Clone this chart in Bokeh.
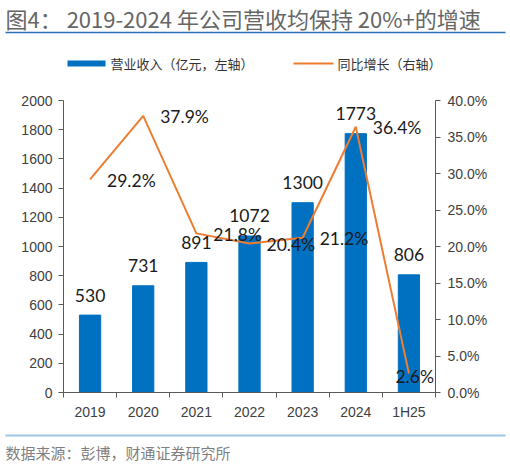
from bokeh.plotting import figure
from bokeh.layouts import column
from bokeh.models import (Range1d, LinearAxis, FixedTicker, PrintfTickFormatter, Label,
                          LabelSet, ColumnDataSource, Span)
from bokeh.core.properties import value
from bokeh.embed import file_html
from bokeh.resources import INLINE

# ---- data ----
categories = ["2019", "2020", "2021", "2022", "2023", "2024", "1H25"]
revenue = [530, 731, 891, 1072, 1300, 1773, 806]          # 营业收入（亿元）
growth = [29.2, 37.9, 21.8, 20.4, 21.2, 36.4, 2.6]         # 同比增长（%）
left_ticks = [0, 200, 400, 600, 800, 1000, 1200, 1400, 1600, 1800, 2000]
right_ticks = [0, 5, 10, 15, 20, 25, 30, 35, 40]

title_text = "图4： 2019-2024 年公司营收均保持 20%+的增速"
source_text = "数据来源：彭博，财通证券研究所"
bar_name = "营业收入（亿元，左轴）"
line_name = "同比增长（右轴）"

BLUE = "#0070C0"
ORANGE = "#ED7D31"
AXIS = "#595959"
TICK_TXT = "#404040"
CJK = "Noto Sans CJK SC"

W = 510
HEAD_H, MAIN_H, FOOT_H = 76, 351, 39
FL, FR, FT, FB = 63, 435, 24, 316     # frame edges inside the main canvas


def blank(height, y0):
    f = figure(width=W, height=height, output_backend="svg", toolbar_location=None,
               x_range=Range1d(0, W), y_range=Range1d(y0 + height, y0),
               x_axis_type=None, y_axis_type=None, min_border=0)
    f.outline_line_color = None
    f.background_fill_color = "white"
    f.border_fill_color = "white"
    return f


# ---- header: title, rule, legend ----
head = blank(HEAD_H, 0)
head.add_layout(Label(x=5, y=17, text=title_text, text_baseline="middle",
                      text_font=CJK, text_font_size="22px", text_color="#666666"))
head.segment(x0=[5], y0=[32], x1=[505], y1=[32], line_color="#2E6FBA", line_width=1.5)
head.quad(left=[67], right=[105], top=[60], bottom=[66], fill_color=BLUE, line_color=None)
head.segment(x0=[293], y0=[63], x1=[333], y1=[63], line_color=ORANGE, line_width=2)
head.add_layout(Label(x=110, y=63, text=bar_name, text_baseline="middle", text_font=CJK,
                      text_font_size="13px", text_color="#333333"))
head.add_layout(Label(x=337, y=63, text=line_name, text_baseline="middle", text_font=CJK,
                      text_font_size="13px", text_color="#333333"))

# ---- main chart ----
xs = list(range(len(categories)))
src = ColumnDataSource(dict(x=xs, rev=revenue, g=growth,
                            rev_txt=[str(v) for v in revenue]))
g_txt = [f"{v:.1f}%" for v in growth]
src_pct = ColumnDataSource(dict(x=xs[:-1], g=growth[:-1], g_txt=g_txt[:-1]))

p = figure(width=W, height=MAIN_H, output_backend="svg", toolbar_location=None,
           x_range=Range1d(-0.5, len(categories) - 0.5),
           y_range=Range1d(left_ticks[0], left_ticks[-1]),
           min_border_left=FL, min_border_right=W - FR,
           min_border_top=FT, min_border_bottom=MAIN_H - FB)
p.extra_y_ranges = {"pct": Range1d(right_ticks[0], right_ticks[-1])}
p.outline_line_color = None
p.xgrid.visible = False
p.ygrid.visible = False
p.background_fill_color = "white"
p.border_fill_color = "white"

bars = p.vbar(x="x", top="rev", width=0.4, source=src, fill_color=BLUE, line_color=BLUE)
line = p.line(x="x", y="g", source=src, y_range_name="pct", line_color=ORANGE, line_width=2)

tick_font = "Liberation Sans"
xa = p.xaxis[0]
xa.ticker = FixedTicker(ticks=xs, minor_ticks=[i - 0.5 for i in range(len(categories) + 1)])
xa.major_label_overrides = {i: c for i, c in zip(xs, categories)}
xa.major_tick_out = 0
xa.major_tick_in = 0
xa.minor_tick_out = 5
xa.minor_tick_in = 0
xa.minor_tick_line_color = AXIS
xa.axis_line_color = AXIS
xa.major_label_standoff = 6
xa.major_label_text_font = tick_font
xa.major_label_text_font_size = "14px"
xa.major_label_text_color = TICK_TXT

ya = p.yaxis[0]
ya.ticker = FixedTicker(ticks=left_ticks)
ya.major_tick_out = 5
ya.major_tick_in = 0
ya.minor_tick_line_color = None
ya.axis_line_color = AXIS
ya.major_tick_line_color = AXIS
ya.major_label_standoff = 6
ya.major_label_text_font = tick_font
ya.major_label_text_font_size = "14px"
ya.major_label_text_color = TICK_TXT

ra = LinearAxis(y_range_name="pct", ticker=FixedTicker(ticks=right_ticks),
                formatter=PrintfTickFormatter(format="%.1f%%"))
ra.major_tick_out = 5
ra.major_tick_in = 0
ra.minor_tick_line_color = None
ra.axis_line_color = AXIS
ra.major_tick_line_color = AXIS
ra.major_label_standoff = 7
ra.major_label_text_font = tick_font
ra.major_label_text_font_size = "14px"
ra.major_label_text_color = TICK_TXT
p.add_layout(ra, "right")

lab_font = value("Lato")
p.add_layout(LabelSet(x="x", y="rev", text="rev_txt", source=src,
                      text_align="center", text_baseline="middle", y_offset=20,
                      text_font=lab_font, text_font_size="17.5px", text_color="#1A1A1A"))
p.add_layout(LabelSet(x="x", y="g", text="g_txt", source=src_pct, y_range_name="pct",
                      text_align="left", text_baseline="middle", x_offset=17, y_offset=-1,
                      text_font=lab_font, text_font_size="17.5px", text_color="#1A1A1A"))
# last growth label: kept inside the plot frame (it would be clipped at the right axis)
p.add_layout(Label(x=xs[-1], y=growth[-1], y_range_name="pct", text=g_txt[-1],
                   text_align="right", text_baseline="middle", x_offset=25, y_offset=-3,
                   text_font="Lato", text_font_size="17.5px", text_color="#1A1A1A"))

# ---- footer: rule and source ----
foot = blank(FOOT_H, HEAD_H + MAIN_H)
foot.segment(x0=[5], y0=[435], x1=[505], y1=[435], line_color="#9DC3E6", line_width=2)
foot.add_layout(Label(x=5, y=452, text=source_text, text_baseline="middle", text_font=CJK,
                      text_font_size="15px", text_color="#7F7F7F"))

# nest header/footer in their own columns so their frames are not aligned with the chart's
layout = column(column(head), p, column(foot), spacing=0)
open("out.html", "w").write(file_html(layout, INLINE))
